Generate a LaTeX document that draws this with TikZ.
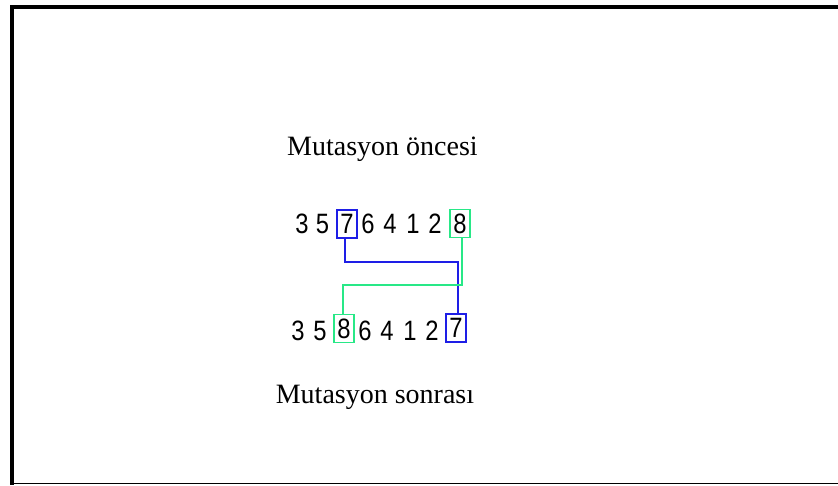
\documentclass[tikz,border=0pt]{standalone}
\usepackage{fontspec}
\setmainfont{Liberation Serif}
\newfontfamily\digitfont[FakeStretch=0.85]{Liberation Sans}
\definecolor{cblue}{RGB}{30,30,230}
\definecolor{cgreen}{RGB}{40,232,135}
\tikzset{
  label text/.style={anchor=base, inner sep=0pt, font=\fontsize{28}{30}\selectfont},
  digit/.style={anchor=base, inner sep=0pt, font=\digitfont\fontsize{28}{30}\selectfont},
  digitbox/.style={draw=#1, line width=1.5pt, minimum width=20pt, minimum height=28pt, inner sep=0pt, font=\digitfont\fontsize{28}{30}\selectfont},
  link/.style={draw=#1, line width=1.6pt},
  frameline/.style={line width=4pt, black}
}
\begin{document}
\begin{tikzpicture}[x=1pt,y=-1pt]
\useasboundingbox (0,0) rectangle (838,485);
\fill[white] (0,0) rectangle (838,485);
% frame
\coordinate (ftl) at (12,7);
\coordinate (ftr) at (838,7);
\coordinate (fbl) at (12,485);
\draw[frameline] (10,7) -- (ftr);
\draw[frameline] (ftl) -- (fbl);
\draw[black, line width=1.5pt] (12,483.5) -- (838,483.5);
% titles
\node[label text] (pre) at (382.5,155) {Mutasyon öncesi};
\node[label text] (post) at (375,403) {Mutasyon sonrası};
% row 1
\node[digit] (a1) at (302,233) {3};
\node[digit] (a2) at (322.5,233) {5};
\node[digitbox=cblue] (b1) at (347,224) {7};
\node[digit] (a4) at (368,233) {6};
\node[digit] (a5) at (390,233) {4};
\node[digit] (a6) at (413,233) {1};
\node[digit] (a7) at (435,233) {2};
\node[digitbox=cgreen] (g1) at (460,223.5) {8};
% row 2
\node[digit] (c1) at (298,340) {3};
\node[digit] (c2) at (320,340) {5};
\node[digitbox=cgreen] (g2) at (344,328.5) {8};
\node[digit] (c4) at (365,340) {6};
\node[digit] (c5) at (387,340) {4};
\node[digit] (c6) at (410,340) {1};
\node[digit] (c7) at (432,340) {2};
\node[digitbox=cblue] (b2) at (456,328) {7};
% connectors
\coordinate (bj) at (0,262);
\coordinate (gj) at (0,285);
\draw[link=cblue] ([xshift=-2pt]b1.south) |- ([xshift=2pt]bj -| b2.north) -- ([xshift=2pt]b2.north);
\draw[link=cgreen] ([xshift=2pt]g1.south) |- ([xshift=-1pt]gj -| g2.north) -- ([xshift=-1pt]g2.north);
\end{tikzpicture}
\end{document}
